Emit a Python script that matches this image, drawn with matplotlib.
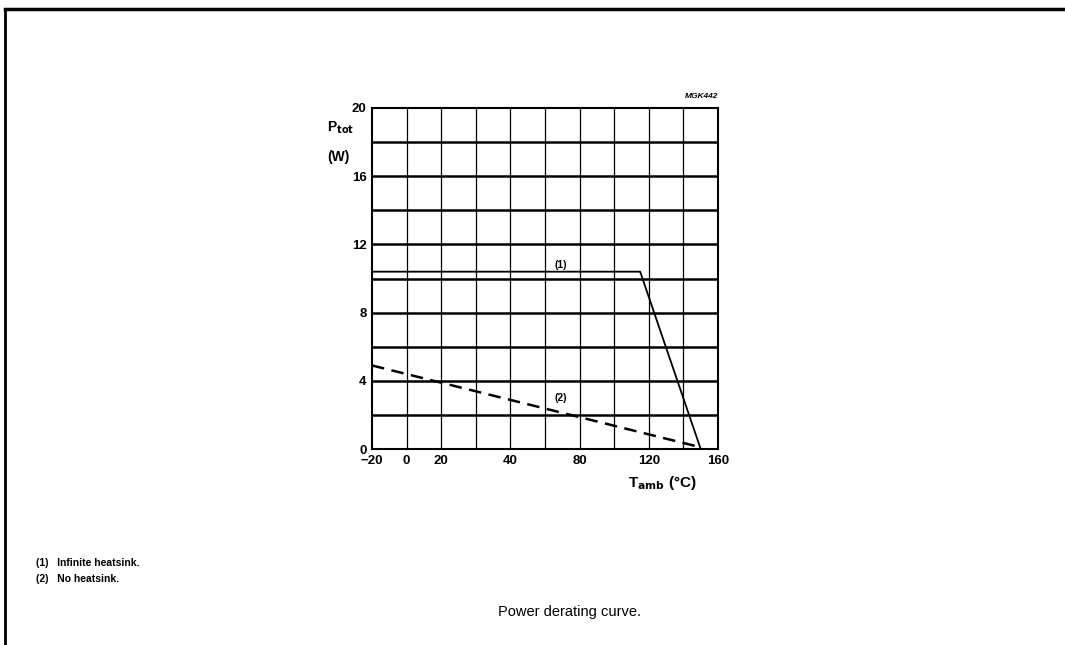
import numpy as np
import matplotlib.pyplot as plt

# Data (x in degC along a 20-per-column grid, y in W)
infinite_x = [-40, 115, 150]
infinite_y = [10.4, 10.4, 0.0]
noheat_x = [-40, 150]
noheat_y = [4.9, 0.1]

x_tick_pos = [-40, -20, 0, 40, 80, 120, 160]
x_tick_lab = ['\u221220', '0', '20', '40', '80', '120', '160']
y_ticks = [0, 4, 8, 12, 16, 20]

plt.rcParams['font.family'] = ['Liberation Sans', 'DejaVu Sans']

fig = plt.figure(figsize=(10.65, 6.45), dpi=100)
ax = fig.add_axes([372 / 1065, 1 - 449 / 645, 346 / 1065, 341 / 645])

# grid: thick horizontals every 2 W, thin verticals every 20 degC
for yv in np.arange(2, 20, 2):
    ax.axhline(yv, color='black', lw=1.8, zorder=1)
for xv in np.arange(-20, 160, 20):
    ax.axvline(xv, color='black', lw=0.9, zorder=1)

ax.plot(infinite_x, infinite_y, color='black', lw=1.3, zorder=3)
ax.plot(noheat_x, noheat_y, color='black', lw=1.8, dashes=(5, 3), zorder=3)

ax.set_xlim(-40, 160)
ax.set_ylim(0, 20)
ax.set_xticks(x_tick_pos)
ax.set_xticklabels(x_tick_lab)
ax.set_yticks(y_ticks)
ax.tick_params(length=0, pad=4, labelsize=9.5)
for lab in ax.get_xticklabels() + ax.get_yticklabels():
    lab.set_fontweight('bold')
for s in ax.spines.values():
    s.set_linewidth(1.5)

ax.text(69, 10.8, '(1)', fontsize=7.5, fontweight='bold', ha='center', va='center')
ax.text(69, 3.0, '(2)', fontsize=7.5, fontweight='bold', ha='center', va='center')

# axis captions, placed as in the datasheet
fig.text(327 / 1065, 1 - 128 / 645, 'P$_{\\mathbf{tot}}$', fontsize=10, fontweight='bold', va='center')
fig.text(327 / 1065, 1 - 157 / 645, '(W)', fontsize=10, fontweight='bold', va='center')
fig.text(628 / 1065, 1 - 483 / 645, 'T$_{\\mathbf{amb}}$ (\u00b0C)', fontsize=11, fontweight='bold', va='center')
fig.text(718 / 1065, 1 - 96 / 645, 'MGK442', fontsize=6, fontweight='bold', style='italic', ha='right', va='center')

# notes and caption
fig.text(36 / 1065, 1 - 563 / 645, '(1)   Infinite heatsink.', fontsize=7.5, fontweight='bold', va='center')
fig.text(36 / 1065, 1 - 579 / 645, '(2)   No heatsink.', fontsize=7.5, fontweight='bold', va='center')
fig.text(569 / 1065, 1 - 612 / 645, 'Power derating curve.', fontsize=10.5, ha='center', va='center')

# page frame (top and left edges of the scan)
fig.add_artist(plt.Line2D([5 / 1065, 1], [1 - 9 / 645, 1 - 9 / 645], color='black', lw=2.5))
fig.add_artist(plt.Line2D([5 / 1065, 5 / 1065], [0, 1 - 9 / 645], color='black', lw=2))

fig.savefig('out.png', dpi=100)
